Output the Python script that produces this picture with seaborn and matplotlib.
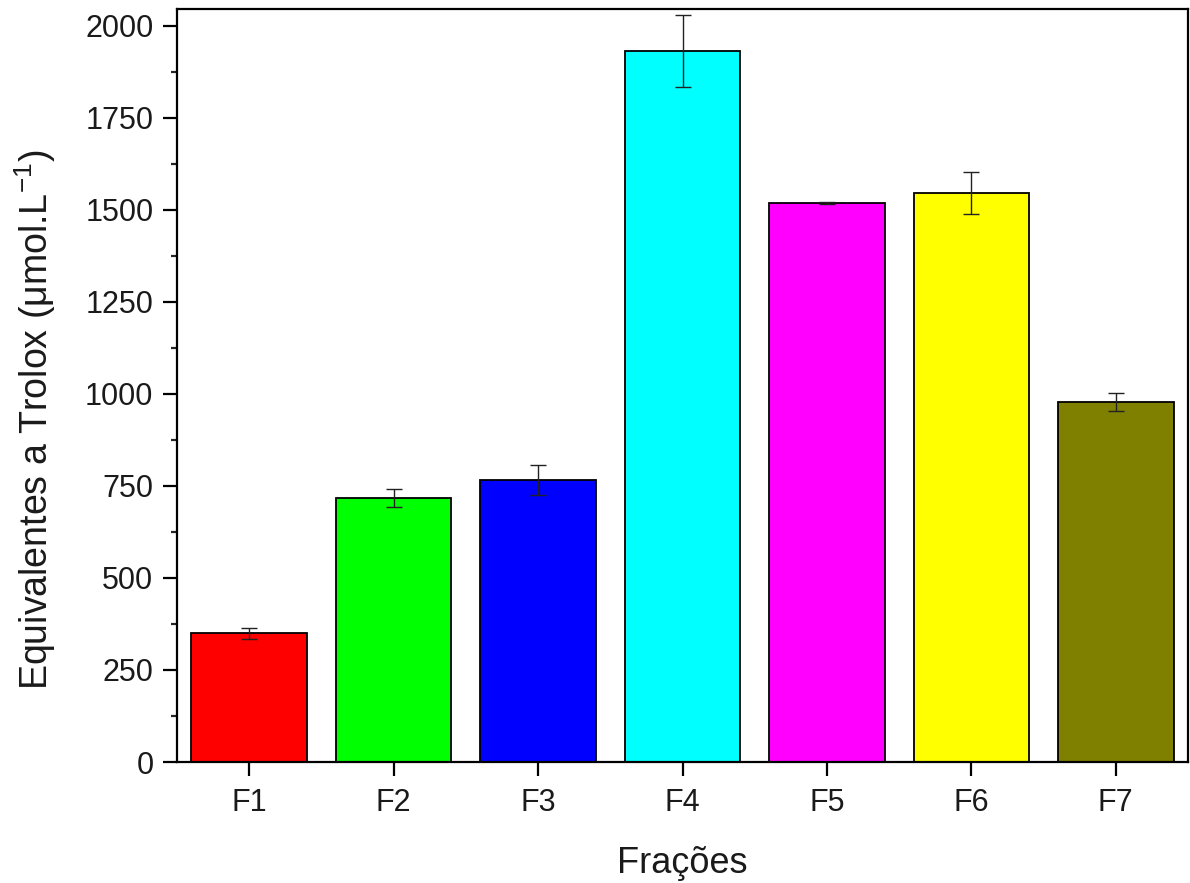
import matplotlib
matplotlib.use("Agg")
import matplotlib.pyplot as plt
import seaborn as sns
import pandas as pd
import numpy as np
from matplotlib.ticker import MultipleLocator

categories = ["F1", "F2", "F3", "F4", "F5", "F6", "F7"]
values = [350, 717, 766, 1932, 1519, 1546, 978]
errors = [15, 24, 40, 98, 3, 57, 25]
colors = ["#FF0000", "#00FF00", "#0000FF", "#00FFFF", "#FF00FF", "#FFFF00", "#808000"]

sns.set_theme(style="ticks")
plt.rcParams['font.family'] = ['Liberation Sans', 'DejaVu Sans']
plt.rcParams['mathtext.fontset'] = 'custom'
plt.rcParams['mathtext.rm'] = 'Liberation Sans'
plt.rcParams['mathtext.it'] = 'Liberation Sans'

df = pd.DataFrame({"cat": categories, "val": values})

fig = plt.figure(figsize=(11.9, 8.83), dpi=100)
ax = fig.add_axes([177/1190, 1 - 762/883, (1188-177)/1190, (762-9)/883])

sns.barplot(data=df, x="cat", y="val", hue="cat", palette=colors, order=categories,
            hue_order=categories, legend=False, width=0.8, edgecolor="black",
            linewidth=1.3, saturation=1, errorbar=None, ax=ax)
ax.errorbar(np.arange(len(categories)), values, yerr=errors, fmt="none",
            ecolor="#222222", elinewidth=1.0, capsize=5.5, capthick=1.0)

ax.set_xlim(-0.5, 6.5)
ax.set_ylim(0, 2046)
ax.yaxis.set_major_locator(MultipleLocator(250))
ax.yaxis.set_minor_locator(MultipleLocator(125))
ax.tick_params(axis="both", which="major", direction="out", length=10, width=1.6,
               labelsize=22, colors="black", labelcolor="#1a1a1a", pad=7)
ax.tick_params(axis="x", which="major", pad=9)
ax.tick_params(axis="y", which="minor", direction="out", length=4.5, width=1.6)
for s in ax.spines.values():
    s.set_visible(True)
    s.set_linewidth(1.6)
    s.set_color("black")

ax.set_xlabel("Frações", fontsize=26, labelpad=20, color="#1a1a1a")
ax.set_ylabel("Equivalentes a Trolox (μmol.L$^{\\mathregular{-1}}$)", fontsize=27, color="#1a1a1a")
ax.yaxis.set_label_coords(-0.118, 0.455)

fig.savefig("out.png", dpi=100)
